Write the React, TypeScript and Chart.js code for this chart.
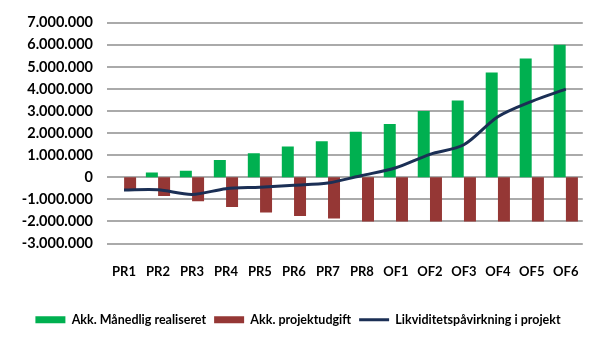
import React, { useEffect, useRef } from "react";
import { Chart, registerables } from "chart.js";

Chart.register(...registerables);

const categories = ["PR1", "PR2", "PR3", "PR4", "PR5", "PR6", "PR7", "PR8", "OF1", "OF2", "OF3", "OF4", "OF5", "OF6"];
const realiseret = [0, 220000, 300000, 780000, 1090000, 1390000, 1630000, 2060000, 2410000, 3000000, 3480000, 4740000, 5380000, 6000000];
const projektudgift = [-550000, -850000, -1090000, -1350000, -1600000, -1760000, -1870000, -2000000, -2000000, -2000000, -2000000, -2000000, -2000000, -2000000];
const likviditet = [-580000, -570000, -780000, -520000, -450000, -360000, -260000, 80000, 430000, 1040000, 1470000, 2740000, 3440000, 3990000];
const seriesNames = ["Akk. Månedlig realiseret", "Akk. projektudgift", "Likviditetspåvirkning i projekt"];
const yMin = -3000000;
const yMax = 7000000;
const yStep = 1000000;

const fmt = (v: number) => {
  const s = Math.abs(Math.round(v)).toString().replace(/\B(?=(\d{3})+(?!\d))/g, ".");
  return (v < 0 ? "-" : "") + s;
};

const gridPlugin = {
  id: "hgrid",
  beforeDatasetsDraw(chart: any) {
    const { ctx, chartArea, scales } = chart;
    const y = scales.y;
    ctx.save();
    ctx.strokeStyle = "#8E8E8E";
    ctx.lineWidth = 1.5;
    y.ticks.forEach((t: any) => {
      const py = Math.round(y.getPixelForValue(t.value));
      ctx.beginPath();
      ctx.moveTo(chartArea.left, py);
      ctx.lineTo(chartArea.right, py);
      ctx.stroke();
    });
    ctx.restore();
  },
};

export default function App() {
  const ref = useRef<HTMLCanvasElement | null>(null);
  useEffect(() => {
    if (!ref.current) return;
    const chart = new Chart(ref.current, {
      type: "bar",
      data: {
        labels: categories,
        datasets: [
          {
            type: "bar",
            label: seriesNames[0],
            data: realiseret,
            backgroundColor: "#00B050",
            categoryPercentage: 0.72,
            barPercentage: 0.98,
            order: 1,
          },
          {
            type: "bar",
            label: seriesNames[1],
            data: projektudgift,
            backgroundColor: "#953735",
            categoryPercentage: 0.72,
            barPercentage: 0.98,
            order: 1,
          },
          {
            type: "line",
            label: seriesNames[2],
            data: likviditet,
            borderColor: "#1B2F55",
            backgroundColor: "#1B2F55",
            borderWidth: 3,
            pointRadius: 0,
            tension: 0.3,
            order: 0,
          } as any,
        ],
      },
      plugins: [gridPlugin],
      options: {
        animation: false,
        responsive: true,
        maintainAspectRatio: false,
        layout: { padding: { left: 10, right: 14, top: 16, bottom: 24 } },
        plugins: {
          tooltip: { enabled: false },
          legend: {
            position: "bottom",
            labels: {
              font: { family: "Lato", size: 12.5, weight: "bold" },
              color: "#000",
              usePointStyle: true,
              pointStyleWidth: 30,
              boxHeight: 7,
              padding: 8,
              sort: (a: any, b: any) => a.datasetIndex - b.datasetIndex,
              generateLabels: (c: any) =>
                (Chart.defaults.plugins.legend.labels.generateLabels as any)(c).map((l: any) => ({
                  ...l,
                  pointStyle: l.datasetIndex === 2 ? "line" : "rect",
                  lineWidth: l.datasetIndex === 2 ? 3 : 0,
                  strokeStyle: l.datasetIndex === 2 ? "#1B2F55" : l.strokeStyle,
                })),
            },
          },
        },
        scales: {
          x: {
            grid: { display: false, drawTicks: false },
            border: { display: false },
            ticks: {
              font: { family: "Lato", size: 13, weight: "bold" },
              color: "#000",
              padding: 21,
              maxRotation: 0,
              autoSkip: false,
            },
            afterFit: (s: any) => {
              s.height = 62;
            },
          },
          y: {
            min: yMin,
            max: yMax,
            grid: { display: false, drawTicks: false },
            border: { display: false },
            ticks: {
              stepSize: yStep,
              autoSkip: false,
              font: { family: "Lato", size: 14.5, weight: "bold" },
              color: "#000",
              padding: 14,
              callback: (v: any) => fmt(Number(v)),
            },
            afterFit: (s: any) => {
              s.width = 97;
            },
          },
        },
      },
    });
    return () => chart.destroy();
  }, []);
  return (
    <div style={{ position: "fixed", left: 0, top: 0, width: 600, height: 360, background: "#fff" }}>
      <canvas ref={ref} />
    </div>
  );
}
